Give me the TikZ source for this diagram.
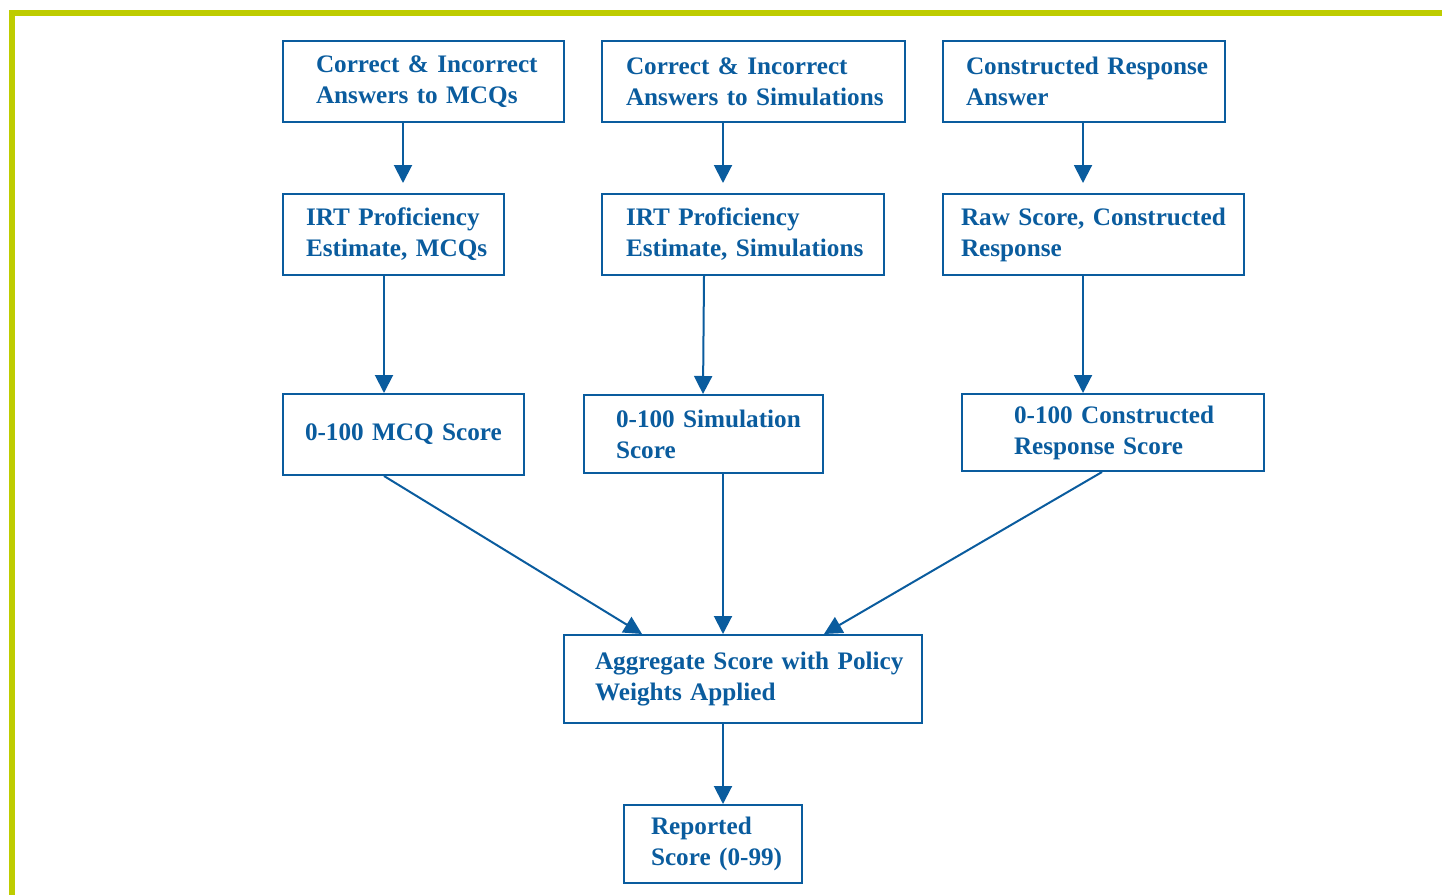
\documentclass[tikz,border=0pt]{standalone}
\usepackage{fontspec}
\setmainfont{Liberation Serif}
\usetikzlibrary{arrows.meta}
\definecolor{bl}{RGB}{10,92,158}
\definecolor{limeb}{RGB}{190,204,0}
\begin{document}
\begin{tikzpicture}[x=1pt,y=-1pt,
 box/.style n args={3}{draw=bl, line width=2pt, text=bl,
   font=\bfseries\fontsize{25.2}{31}\selectfont, anchor=north west,
   inner sep=0pt, align=left, minimum width=#1, text width=#1,
   minimum height=#2, execute at begin node={\leftskip=#3pt\relax}},
 arr/.style={draw=bl, line width=2pt, -{Triangle[width=18pt,length=18pt]}}]
\useasboundingbox (0,0) rectangle (1442,894);
\draw[limeb, line width=6pt, line join=miter] (12,900) -- (12,13) -- (1450,13);

\node[box={281}{81}{33}] (a1) at (282,40) {Correct \& Incorrect\\Answers to MCQs};
\node[box={303}{81}{24}] (a2) at (601,40) {Correct \& Incorrect\\Answers to Simulations};
\node[box={282}{81}{23}] (a3) at (942,40) {Constructed Response\\Answer};

\node[box={221}{81}{23}] (b1) at (282,193) {IRT Proficiency\\Estimate, MCQs};
\node[box={282}{81}{24}] (b2) at (601,193) {IRT Proficiency\\Estimate, Simulations};
\node[box={301}{81}{18}] (b3) at (942,193) {Raw Score, Constructed\\Response};

\node[box={241}{81}{22}] (c1) at (282,393) {0-100 MCQ Score};
\node[box={239}{78}{32}] (c2) at (583,394) {0-100 Simulation\\Score};
\node[box={302}{77}{52}] (c3) at (961,393) {0-100 Constructed\\Response Score};

\node[box={358}{88}{31}] (d) at (563,634) {Aggregate Score with Policy\\Weights Applied};
\node[box={178}{78}{27}] (e) at (623,804) {Reported\\Score (0-99)};

\draw[arr] ([xshift=-20.5]a1.south) -- ([xshift=9.5,yshift=10]b1.north);
\draw[arr] ([xshift=-30.5]a2.south) -- ([xshift=-20,yshift=10]b2.north);
\draw[arr] ([xshift=-1]a3.south) -- ([xshift=-10.5,yshift=10]b3.north);

\draw[arr] ([xshift=-9.5]b1.south) -- ([xshift=-19.5]c1.north);
\draw[arr] ([xshift=-39]b2.south) -- ([xshift=-0.5]c2.north);
\draw[arr] ([xshift=-10.5]b3.south) -- ([xshift=-30]c3.north);

\draw[arr] ([xshift=-19.5]c1.south) -- ([xshift=-101]d.north);
\draw[arr] ([xshift=19.5]c2.south) -- ([xshift=-20]d.north);
\draw[arr] ([xshift=-11]c3.south) -- ([xshift=81]d.north);

\draw[arr] ([xshift=-20]d.south) -- ([xshift=10]e.north);
\end{tikzpicture}
\end{document}
